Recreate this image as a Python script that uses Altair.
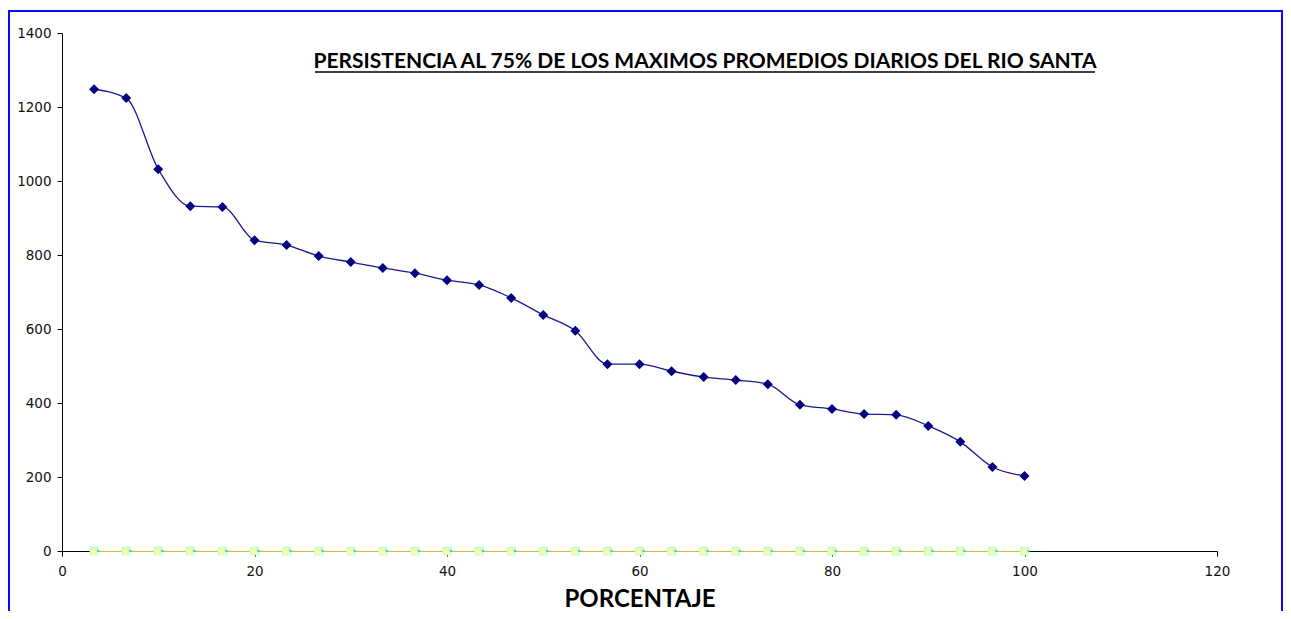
import altair as alt
import pandas as pd

porcentaje = [3.33, 6.67, 10.0, 13.33, 16.67, 20.0, 23.33, 26.67, 30.0, 33.33,
              36.67, 40.0, 43.33, 46.67, 50.0, 53.33, 56.67, 60.0, 63.33, 66.67,
              70.0, 73.33, 76.67, 80.0, 83.33, 86.67, 90.0, 93.33, 96.67, 100.0]
caudal = [1248, 1224, 1032, 932, 930, 840, 827, 797, 781, 765,
          751, 732, 719, 684, 638, 595, 505, 505, 486, 470,
          462, 451, 395, 384, 370, 368, 338, 295, 227, 203]
cero = [0] * len(porcentaje)

titulo = "PERSISTENCIA AL 75% DE LOS MAXIMOS PROMEDIOS DIARIOS DEL RIO SANTA"
x_titulo = "PORCENTAJE"

df = pd.DataFrame({"x": porcentaje, "y": caudal, "z": cero})

W, H = 1155, 518

xs = alt.Scale(domain=[0, 120], nice=False, zero=True)
ys = alt.Scale(domain=[0, 1400], nice=False)

xax = alt.Axis(values=[0, 20, 40, 60, 80, 100, 120], title=x_titulo, grid=False,
               format="d", labelFlush=False,
               domainColor="black", tickColor="black", tickSize=5,
               labelFont="DejaVu Sans", labelFontSize=13.5, labelColor="#111",
               labelPadding=8, titleFont="Lato", titleFontSize=24,
               titleFontWeight="bold", titleColor="black", titlePadding=10)
yax = alt.Axis(values=[0, 200, 400, 600, 800, 1000, 1200, 1400], title=None,
               format="d", labelFlush=False,
               grid=False, domainColor="black", tickColor="black", tickSize=5,
               labelFont="DejaVu Sans", labelFontSize=13.5, labelColor="#111",
               labelPadding=6)

base = alt.Chart(df)

frame = alt.Chart(pd.DataFrame({"a": [0]})).mark_rect(
    fill=None, stroke="#0a0aff", strokeWidth=2).encode(
    x=alt.value(-53), x2=alt.value(1220), y=alt.value(-22), y2=alt.value(700))

zline = base.mark_line(color="#ffff99", strokeWidth=1.5).encode(
    x=alt.X("x:Q", scale=xs, axis=xax), y=alt.Y("z:Q", scale=ys, axis=yax))
zsq = base.mark_point(shape="square", filled=True, color="#ccffcc", size=80, opacity=1).encode(
    x=alt.X("x:Q", scale=xs), y=alt.Y("z:Q", scale=ys))
ztri = base.mark_point(shape="triangle-up", filled=True, color="#ffff99", size=55, opacity=1).encode(
    x=alt.X("x:Q", scale=xs), y=alt.Y("z:Q", scale=ys))
zdot = base.mark_point(shape="circle", filled=True, color="#33ccff", size=6, opacity=1, xOffset=4).encode(
    x=alt.X("x:Q", scale=xs), y=alt.Y("z:Q", scale=ys))

line = base.mark_line(color="#1a1a8c", strokeWidth=1.3, interpolate="monotone").encode(
    x=alt.X("x:Q", scale=xs), y=alt.Y("y:Q", scale=ys))
pts = base.mark_point(shape="diamond", filled=True, color="#000080", size=100, opacity=1).encode(
    x=alt.X("x:Q", scale=xs), y=alt.Y("y:Q", scale=ys))

ttl = alt.Chart(pd.DataFrame({"t": [titulo]})).mark_text(
    font="Lato", fontSize=21, fontWeight="bold", color="black",
    align="center", baseline="alphabetic").encode(
    x=alt.value(643), y=alt.value(35), text="t:N")
underline = alt.Chart(pd.DataFrame({"a": [0]})).mark_rule(
    color="black", strokeWidth=1.5).encode(
    x=alt.value(253), x2=alt.value(1033), y=alt.value(39))

chart = alt.layer(frame, zline, zsq, ztri, zdot, line, pts, ttl, underline).properties(
    width=W, height=H,
    autosize=alt.AutoSizeParams(type="none"),
    padding={"left": 54, "top": 25, "right": 66, "bottom": 60},
    background="white",
).configure_view(stroke=None)

chart.save("out.html", embed_options={"renderer": "svg", "actions": False})
